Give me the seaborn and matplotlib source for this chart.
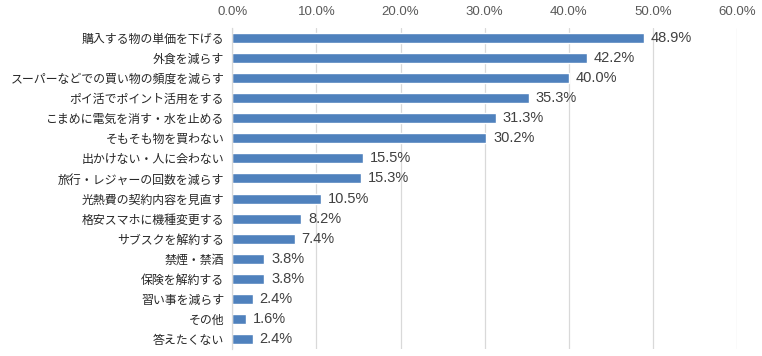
import matplotlib
matplotlib.use("Agg")
import matplotlib.pyplot as plt
import seaborn as sns
import pandas as pd
from matplotlib.ticker import FuncFormatter

categories = [
    "購入する物の単価を下げる",
    "外食を減らす",
    "スーパーなどでの買い物の頻度を減らす",
    "ポイ活でポイント活用をする",
    "こまめに電気を消す・水を止める",
    "そもそも物を買わない",
    "出かけない・人に会わない",
    "旅行・レジャーの回数を減らす",
    "光熱費の契約内容を見直す",
    "格安スマホに機種変更する",
    "サブスクを解約する",
    "禁煙・禁酒",
    "保険を解約する",
    "習い事を減らす",
    "その他",
    "答えたくない",
]
values = [48.9, 42.2, 40.0, 35.3, 31.3, 30.2, 15.5, 15.3, 10.5, 8.2, 7.4, 3.8, 3.8, 2.4, 1.6, 2.4]
x_ticks = [0, 10, 20, 30, 40, 50, 60]

df = pd.DataFrame({"cat": categories, "val": values})

sns.set_theme(style="white")
plt.rcParams["font.family"] = ["Noto Sans CJK JP", "DejaVu Sans"]

fig = plt.figure(figsize=(7.62, 3.56), dpi=100)
ax = fig.add_axes([0.305, 0.02, 0.662, 0.901])

sns.barplot(data=df, x="val", y="cat", color="#4F81BD", saturation=1, width=0.5, ax=ax, orient="h")

ax.set_xlim(0, 60)
ax.set_xticks(x_ticks)
ax.xaxis.set_major_formatter(FuncFormatter(lambda v, p: f"{v:.1f}%"))
ax.xaxis.tick_top()
ax.tick_params(axis="x", length=0, labelsize=9.5, labelcolor="#595959", pad=7)
ax.tick_params(axis="y", length=0, labelsize=8.6, labelcolor="#262626", pad=6)
for lbl in ax.get_xticklabels():
    lbl.set_family(["Liberation Sans", "DejaVu Sans"])
ax.grid(axis="x", color="#D9D9D9", linewidth=0.9)
ax.set_axisbelow(True)
ax.set_xlabel("")
ax.set_ylabel("")
for s in ["top", "right", "bottom"]:
    ax.spines[s].set_visible(False)
ax.spines["left"].set_color("#D9D9D9")
ax.spines["left"].set_linewidth(0.9)

for i, v in enumerate(values):
    ax.text(v + 0.8, i, f"{v:.1f}%", va="center", ha="left", fontsize=10.5,
            color="#404040", family=["Liberation Sans Narrow", "Liberation Sans", "DejaVu Sans"])

fig.savefig("out.png", dpi=100)
